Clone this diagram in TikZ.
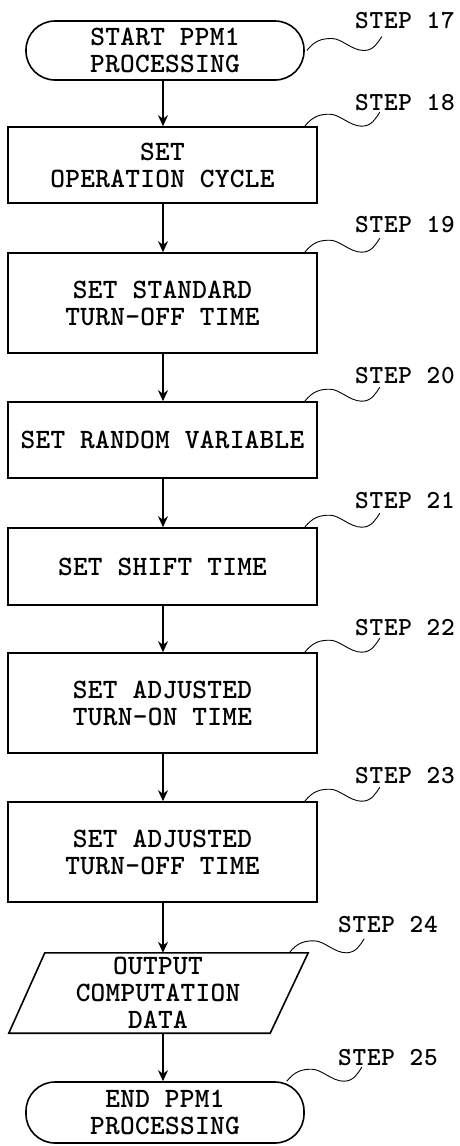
\documentclass[tikz,border=0pt]{standalone}
\usepackage{fontspec}
\newfontfamily\boxfont{lmmonolt10-bold}[Extension=.otf]
\usetikzlibrary{arrows.meta,calc}
\begin{document}
\begin{tikzpicture}[x=1pt,y=-1pt,
  every node/.style={font=\fontsize{28}{27}\boxfont\addfontfeature{LetterSpace=1}, align=center, inner sep=0pt},
  stepbox/.style={draw, line width=1.6pt, minimum width=309pt},
  term/.style={draw, line width=1.6pt, minimum width=278pt, rounded corners=29pt},
  lbl/.style={anchor=base west, font=\fontsize{26}{26}\boxfont\addfontfeature{LetterSpace=3}},
  arr/.style={line width=1.3pt, -{Stealth[length=11pt,width=10pt]}},
  squig/.style={line width=0.9pt}
]
\useasboundingbox (0,0) rectangle (459,1146);

\node[term, minimum height=59pt] (s17) at (165,50.5) {START PPM1\\PROCESSING};
\node[stepbox, minimum height=76pt] (s18) at (162.5,165) {SET\\OPERATION CYCLE};
\node[stepbox, minimum height=100pt] (s19) at (162.5,303) {SET STANDARD\\TURN-OFF TIME};
\node[stepbox, minimum height=76pt] (s20) at (162.5,440) {SET RANDOM VARIABLE};
\node[stepbox, minimum height=77pt] (s21) at (162.5,566.5) {SET SHIFT TIME};
\node[stepbox, minimum height=100pt] (s22) at (162.5,703) {SET ADJUSTED\\TURN-ON TIME};
\node[stepbox, minimum height=100pt] (s23) at (162.5,852) {SET ADJUSTED\\TURN-OFF TIME};
\node[minimum width=262pt, minimum height=80pt] (s24) at (158,993) {OUTPUT\\COMPUTATION\\DATA};
\draw[line width=1.6pt] ($(s24.north west)+(18,0)$) -- ($(s24.north east)+(19,0)$)
  -- ($(s24.south east)+(-19,0)$) -- ($(s24.south west)+(-18,0)$) -- cycle;
\node[term, minimum height=61pt] (s25) at (165,1112.5) {END PPM1\\PROCESSING};

% labels
\node[lbl] (l17) at (355,28) {STEP 17};
\node[lbl] (l18) at (355,110) {STEP 18};
\node[lbl] (l19) at (355,232) {STEP 19};
\node[lbl] (l20) at (355,383) {STEP 20};
\node[lbl] (l21) at (355,508) {STEP 21};
\node[lbl] (l22) at (355,635) {STEP 22};
\node[lbl] (l23) at (355,783) {STEP 23};
\node[lbl] (l24) at (338,932) {STEP 24};
\node[lbl] (l25) at (338,1065) {STEP 25};

% arrows
\draw[arr] (163,0 |- s17.south) -- (163,0 |- s18.north);
\draw[arr] (163,0 |- s18.south) -- (163,0 |- s19.north);
\draw[arr] (163,0 |- s19.south) -- (163,0 |- s20.north);
\draw[arr] (163,0 |- s20.south) -- (163,0 |- s21.north);
\draw[arr] (163,0 |- s21.south) -- (163,0 |- s22.north);
\draw[arr] (163,0 |- s22.south) -- (163,0 |- s23.north);
\draw[arr] (163,0 |- s23.south) -- (163,0 |- s24.north);
\draw[arr] (163,0 |- s24.south) -- (163,0 |- s25.north);

% squiggles
\newcommand{\squiggle}[1]{%
  \draw[squig] #1 .. controls +(8,-10) and +(-10,0) .. ++(25,-12)
     .. controls +(10,0) and +(-12,0) .. ++(32,12)
     .. controls +(10,0) and +(-4,6) .. ++(18,-14);}
\squiggle{($(s17.east)+(2,0)$)}
\squiggle{($(s18.north east)+(-13,0)$)}
\squiggle{($(s19.north east)+(-13,0)$)}
\squiggle{($(s20.north east)+(-13,0)$)}
\squiggle{($(s21.north east)+(-13,0)$)}
\squiggle{($(s22.north east)+(-13,0)$)}
\squiggle{($(s23.north east)+(-13,0)$)}
\squiggle{($(s24.north east)+(0,0)$)}
\squiggle{($(s25.north east)+(-18,0)$)}
\end{tikzpicture}
\end{document}
